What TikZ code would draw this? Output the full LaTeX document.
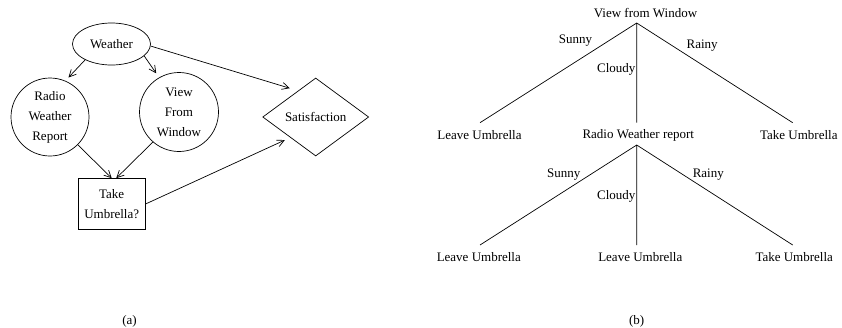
\documentclass[tikz,border=0pt]{standalone}
\usepackage{fontspec}
\setmainfont{Liberation Serif}
\usetikzlibrary{shapes.geometric,arrows.meta}
\begin{document}
\begin{tikzpicture}[x=1pt,y=-1pt,
  font=\fontsize{13}{20}\selectfont,
  line width=0.7pt,
  arr/.style={-{Straight Barb[length=7pt,width=7pt,line width=0.7pt]}},
  lbl/.style={inner sep=0pt},
  bubble/.style={draw,circle,minimum size=78pt,inner sep=0pt,align=center}]
\useasboundingbox (0,0) rectangle (842,327);
% panel (a)
\node[draw,ellipse,minimum width=78pt,minimum height=42pt,inner sep=0pt] (w) at (111.5,44) {Weather};
\node[bubble] (r) at (50,117) {Radio\\Weather\\Report};
\node[bubble,minimum size=79pt] (v) at (179,112) {View\\From\\Window};
\node[draw,diamond,minimum width=106pt,minimum height=78pt,inner sep=0pt] (s) at (315.7,117) {Satisfaction};
\node[draw,rectangle,minimum width=67pt,minimum height=51pt,inner sep=0pt,align=center] (t) at (111.7,204) {Take\\Umbrella?};
\draw[arr,shorten >=4.5pt] (w.211) -- (r.67);
\draw[arr,shorten >=5pt] (w.340) -- (v.120);
\draw[arr,shorten >=8.6pt] (w.357) -- (s.124);
\draw[arr] (r.315) -- (t.north);
\draw[arr] (v.229) -- (t.80);
\draw[arr,shorten >=6pt] (t.east) -- (s.219);
\node[lbl] (la) at (129.5,321) {(a)};
% panel (b)
\node[lbl] (vwl) at (645.5,13.3) {View from Window};
\coordinate (vw) at (636.7,23);
\coordinate (e1) at (480,122.7);
\coordinate (e2) at (636.7,122.7);
\coordinate (e3) at (792.7,122.7);
\draw (vw) -- (e1) (vw) -- (e2) (vw) -- (e3);
\node[lbl] (l1) at (479.5,135) {Leave Umbrella};
\node[lbl] (rw) at (638.3,135) {Radio Weather report};
\node[lbl] (l3) at (798.8,135) {Take Umbrella};
\node[lbl] at (575.5,41) {Sunny};
\node[lbl] at (616.3,69) {Cloudy};
\node[lbl] at (702.2,46) {Rainy};
\coordinate (rr) at (636.7,145);
\coordinate (f1) at (480,245);
\coordinate (f2) at (636.7,245);
\coordinate (f3) at (792.7,245);
\draw (rr) -- (f1) (rr) -- (f2) (rr) -- (f3);
\node[lbl] (m1) at (478.8,257.3) {Leave Umbrella};
\node[lbl] (m2) at (640.3,257.3) {Leave Umbrella};
\node[lbl] (m3) at (794.2,257.3) {Take Umbrella};
\node[lbl] at (563.7,174.3) {Sunny};
\node[lbl] at (616.3,196.7) {Cloudy};
\node[lbl] at (708.3,174.3) {Rainy};
\node[lbl] (lb) at (636.7,321) {(b)};
\end{tikzpicture}
\end{document}
